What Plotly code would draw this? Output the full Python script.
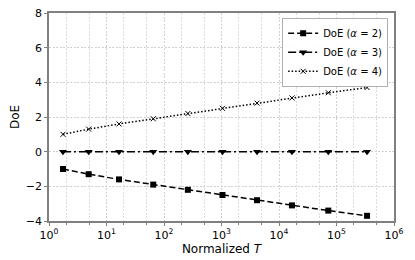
import plotly.graph_objects as go

x_T = [1.75, 4.9, 16.5, 65, 260, 1040, 4150, 16800, 72000, 340000]
doe_a2 = [-1.0, -1.3, -1.6, -1.9, -2.2, -2.5, -2.8, -3.1, -3.4, -3.7]
doe_a3 = [0, 0, 0, 0, 0, 0, 0, 0, 0, 0]
doe_a4 = [1.0, 1.3, 1.6, 1.9, 2.2, 2.5, 2.8, 3.1, 3.4, 3.7]
series_names = ["DoE (<i>α</i> = 2)", "DoE (<i>α</i> = 3)", "DoE (<i>α</i> = 4)"]
x_tickvals = [1, 10, 100, 1000, 10000, 100000, 1000000]
x_ticktext = ["10<sup>0</sup>", "10<sup>1</sup>", "10<sup>2</sup>", "10<sup>3</sup>",
              "10<sup>4</sup>", "10<sup>5</sup>", "10<sup>6</sup>"]
y_tickvals = [-4, -2, 0, 2, 4, 6, 8]

fig = go.Figure()
fig.add_trace(go.Scatter(x=x_T, y=doe_a2, name=series_names[0], mode="lines+markers",
                         line=dict(color="black", width=1.5, dash="6px,3px"),
                         marker=dict(symbol="square", size=6, color="black")))
fig.add_trace(go.Scatter(x=x_T, y=doe_a3, name=series_names[1], mode="lines+markers",
                         line=dict(color="black", width=1.5, dash="8px,3px,2px,3px"),
                         marker=dict(symbol="triangle-down", size=7, color="black")))
fig.add_trace(go.Scatter(x=x_T, y=doe_a4, name=series_names[2], mode="lines+markers",
                         line=dict(color="black", width=1.5, dash="1.5px,2px"),
                         marker=dict(symbol="x-thin", size=5, color="black",
                                     line=dict(width=1, color="black"))))

axis_common = dict(showline=True, linecolor="#808080", linewidth=1.5, mirror=True,
                   ticks="outside", tickcolor="#808080", ticklen=3, tickwidth=1,
                   tickfont=dict(family="DejaVu Sans", size=11, color="black"),
                   zeroline=False, automargin=False, ticklabeloverflow="allow")

fig.update_xaxes(type="log", range=[0, 6], tickvals=x_tickvals, ticktext=x_ticktext,
                 showgrid=True, gridcolor="#d0d0d0", gridwidth=0.8, griddash="2px,1.5px",
                 minor=dict(showgrid=True, gridcolor="#dcdcdc", gridwidth=0.7, griddash="2px,1.5px",
                            ticks="outside", ticklen=2, tickcolor="#808080"),
                 title=dict(text="Normalized <i>T</i>", font=dict(family="DejaVu Sans", size=12, color="black"),
                            standoff=2),
                 **axis_common)
fig.update_yaxes(range=[-4, 8], tickvals=y_tickvals,
                 showgrid=True, gridcolor="#d0d0d0", gridwidth=0.8, griddash="2px,1.5px",
                 title=dict(text="DoE", font=dict(family="DejaVu Sans", size=12, color="black"),
                            standoff=6),
                 **axis_common)

fig.update_layout(template="none", width=407, height=252, margin=dict(l=41, r=21, t=5, b=39),
                  plot_bgcolor="white", paper_bgcolor="white",
                  font=dict(family="DejaVu Sans", size=11, color="black"),
                  legend=dict(x=0.983, y=0.977, xanchor="right", yanchor="top",
                              bgcolor="rgba(255,255,255,0.9)", bordercolor="#b0b0b0", borderwidth=1,
                              font=dict(family="DejaVu Sans", size=10, color="black"),
                              itemwidth=30, tracegroupgap=0))

fig.write_html("out.html")
